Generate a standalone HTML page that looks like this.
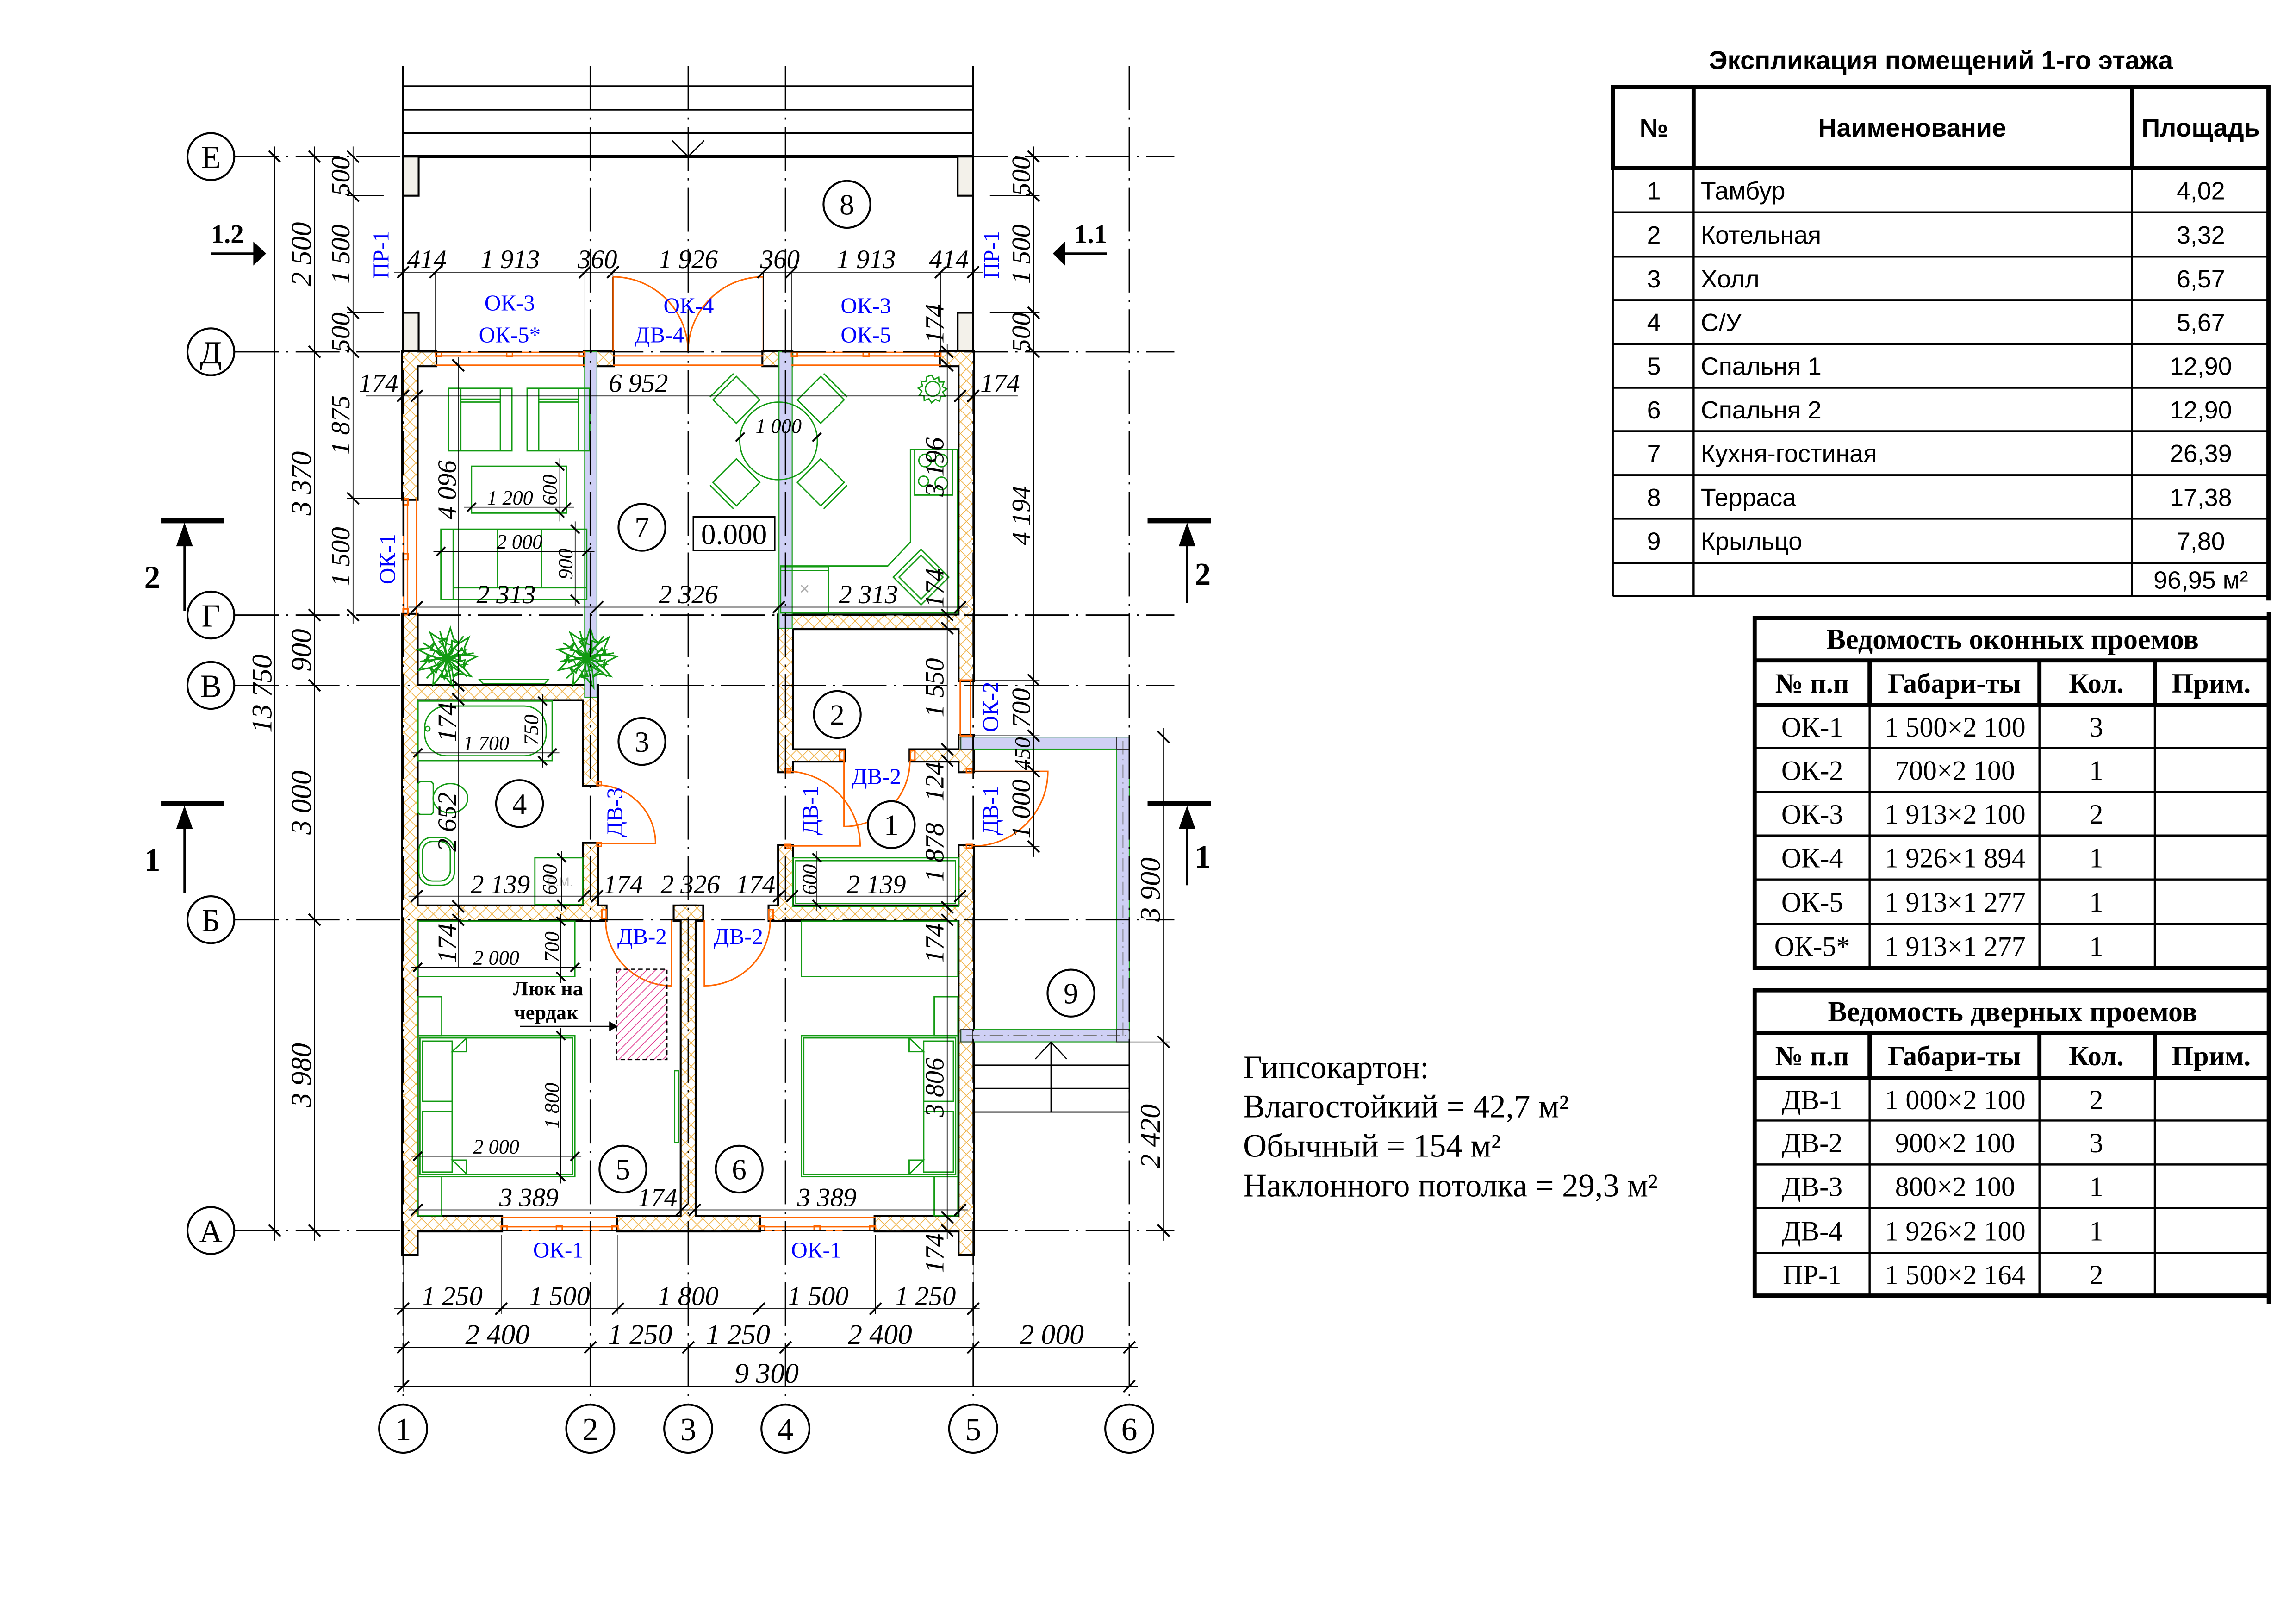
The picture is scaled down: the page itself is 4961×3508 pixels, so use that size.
<!DOCTYPE html>
<html><head><meta charset="utf-8"><title>План 1-го этажа</title>
<style>
html,body{margin:0;padding:0;background:#fff}
svg{display:block}
.ax{stroke:#000;stroke-width:0.9;stroke-dasharray:30 5 1.5 5;fill:none}
.dl{stroke:#000;stroke-width:0.55;fill:none}
.ex{stroke:#000;stroke-width:0.45;fill:none}
.tk{stroke:#000;stroke-width:1.2;fill:none}
.d{font-family:"Liberation Serif",serif;font-style:italic;font-size:18px;fill:#000;text-anchor:middle}
.ds{font-family:"Liberation Serif",serif;font-style:italic;font-size:14px;fill:#000;text-anchor:middle}
.dL{font-family:"Liberation Serif",serif;font-style:italic;font-size:19.5px;fill:#000;text-anchor:middle}
.bl{font-family:"Liberation Serif",serif;font-size:15.5px;fill:#0000ff;text-anchor:middle}
.or{stroke:#ff6600;stroke-width:1;fill:none}
.gr{stroke:#129a12;stroke-width:0.9;fill:none}
.n{font-family:"Liberation Serif",serif;font-size:20px;text-anchor:middle;fill:#000}
.an{font-family:"Liberation Serif",serif;font-size:22px;text-anchor:middle;fill:#000}
.cir{fill:#fff;stroke:#000;stroke-width:1.3}
.ts{font-family:"Liberation Sans",sans-serif;font-size:17px;fill:#000}
.tsb{font-family:"Liberation Sans",sans-serif;font-size:17.5px;font-weight:bold;fill:#000;text-anchor:middle}
.tt{font-family:"Liberation Serif",serif;font-size:19px;fill:#000;text-anchor:middle}
.ttb{font-family:"Liberation Serif",serif;font-size:19px;font-weight:bold;fill:#000;text-anchor:middle}
.thk{stroke:#000;stroke-width:2.8;fill:none}
.thn{stroke:#000;stroke-width:1.4;fill:none}
</style></head><body>
<svg xmlns="http://www.w3.org/2000/svg" width="4961" height="3508" viewBox="0 0 1568 1108.73" preserveAspectRatio="none">
<defs>
<pattern id="h" width="8" height="8" patternUnits="userSpaceOnUse">
<rect width="8" height="8" fill="#fff"/>
<path d="M0,0L8,8M8,0L0,8" stroke="#f0b040" stroke-width="0.5"/>
</pattern>
<pattern id="mg" width="6" height="6" patternUnits="userSpaceOnUse">
<path d="M-1,1L1,-1M0,6L6,0M5,7L7,5" stroke="#e0308a" stroke-width="0.5"/>
</pattern>
<g id="walls">
<rect x="275.3" y="240.2" width="9.3" height="100.4"/>
<rect x="275.3" y="419.7" width="9.3" height="436.5"/>
<rect x="275.3" y="240.2" width="22.1" height="9.2"/>
<rect x="399.4" y="240.2" width="19.2" height="9.2"/>
<rect x="521.3" y="240.2" width="19.2" height="9.2"/>
<rect x="642.5" y="240.2" width="22.1" height="9.2"/>
<rect x="655.3" y="240.2" width="9.3" height="224.1"/>
<rect x="655.3" y="502.3" width="9.3" height="24.3"/>
<rect x="655.3" y="577.5" width="9.3" height="278.7"/>
<rect x="275.3" y="830.8" width="67" height="9.3"/>
<rect x="422" y="830.8" width="96.3" height="9.3"/>
<rect x="597.9" y="830.8" width="66.7" height="9.3"/>
<rect x="275.3" y="468.2" width="132.4" height="9.2"/>
<rect x="398.8" y="468.2" width="8.9" height="67.6"/>
<rect x="398.8" y="576.1" width="8.9" height="52"/>
<rect x="275.3" y="618.8" width="138.3" height="9.2"/>
<rect x="460.7" y="618.8" width="18.9" height="9.2"/>
<rect x="465.5" y="618.8" width="8.9" height="212.2"/>
<rect x="525.5" y="618.8" width="139.1" height="9.2"/>
<rect x="532" y="420.2" width="9" height="106.4"/>
<rect x="532" y="577.5" width="9" height="50.5"/>
<rect x="532" y="420.2" width="132.6" height="8.7"/>
<rect x="532" y="512.2" width="44.4" height="7.1"/>
<rect x="621.8" y="512.2" width="42.8" height="7.1"/>
</g>
<g id="leaf">
<path d="M0,0L6,-2.5L9,-6L11,-2L18,-1L12,2L10,6L6,2.5Z"/>
</g>
<g id="palm" class="gr" stroke-width="0.8">
<use href="#leaf"/>
<use href="#leaf" transform="rotate(40)"/>
<use href="#leaf" transform="rotate(80)"/>
<use href="#leaf" transform="rotate(120)"/>
<use href="#leaf" transform="rotate(160)"/>
<use href="#leaf" transform="rotate(200)"/>
<use href="#leaf" transform="rotate(240)"/>
<use href="#leaf" transform="rotate(280)"/>
<use href="#leaf" transform="rotate(320)"/>
<use href="#leaf" transform="rotate(20) scale(0.7)"/>
<use href="#leaf" transform="rotate(100) scale(0.7)"/>
<use href="#leaf" transform="rotate(180) scale(0.7)"/>
<use href="#leaf" transform="rotate(260) scale(0.7)"/>
<use href="#leaf" transform="rotate(340) scale(0.7)"/>
<path d="M0,0L-14,-9M0,0L-4,-16M0,0L10,-13M0,0L16,-3M0,0L12,11M0,0L3,16M0,0L-12,12M0,0L-16,2"/>
</g>
</defs>

<rect width="1568" height="1108.73" fill="#fff"/>

<!-- terrace top -->
<path d="M275.3,45.2V240.2M664.6,45.2V240.2" stroke="#000" stroke-width="1.3" fill="none"/>
<path d="M275.3,58.8H664.6M275.3,74.9H664.6M275.3,90.9H664.6" stroke="#000" stroke-width="1.1" fill="none"/>
<path d="M275.3,106.9H664.6" stroke="#000" stroke-width="2.2"/>
<path d="M459,96L469.9,106.9L480.9,96" stroke="#000" stroke-width="0.9" fill="none"/>
<g fill="#f3f1ea" stroke="#000" stroke-width="1.3">
<rect x="275.3" y="106.9" width="10.6" height="26.7"/>
<rect x="275.3" y="213.5" width="10.6" height="26.7"/>
<rect x="654" y="106.9" width="10.6" height="26.7"/>
<rect x="654" y="213.5" width="10.6" height="26.7"/>
</g>

<!-- walls -->
<use href="#walls" fill="#000" stroke="#000" stroke-width="2.6"/>
<use href="#walls" fill="url(#h)"/>

<!-- lavender partitions -->
<g fill="#cfd0f5" stroke="#1f9f1f" stroke-width="0.7">
<rect x="399.3" y="240.2" width="8.4" height="235.8"/>
<rect x="532" y="240.2" width="9" height="188.7"/>
<rect x="656.2" y="503.2" width="115" height="8.2"/>
<rect x="762.6" y="503.2" width="8.6" height="208.1"/>
<rect x="656.2" y="702.7" width="115" height="8.6"/>
</g>
<path d="M660,507.3H769M766.9,506V709M660,707H769" stroke="#777" stroke-width="0.6" stroke-dasharray="9 3 1 3" fill="none"/>
<g fill="none" stroke="#333" stroke-width="0.6">
<rect x="656.2" y="503.2" width="8" height="8.2"/><rect x="762.6" y="503.2" width="8.6" height="8.2"/>
<rect x="656.2" y="702.7" width="8" height="8.6"/><rect x="762.6" y="702.7" width="8.6" height="8.6"/>
</g>

<!-- stairs -->
<path d="M664.6,727.2H771.2M664.6,743.1H771.2M664.6,759.2H771.2M717.8,711.3V759.2M771.2,711.3V759.2" stroke="#000" stroke-width="0.9" fill="none"/>
<path d="M707,723L717.8,711.5L728.5,723" stroke="#000" stroke-width="0.8" fill="none"/>

<!-- windows -->
<g class="or">
<path d="M297.4,240.6H399.4M297.4,243H399.4M297.4,249.3H399.4M540.5,240.6H642.5M540.5,243H642.5M540.5,249.3H642.5"/>
<path d="M418.6,243H521.3M418.6,249.3H521.3"/>
<path d="M275.8,340.6V419.7M278.3,340.6V419.7M284.6,340.6V419.7"/>
<path d="M342.3,831.2H422M342.3,837.5H422M342.3,840.1H422M518.3,831.2H597.9M518.3,837.5H597.9M518.3,840.1H597.9"/>
<path d="M655.8,464.3V502.3M662.8,464.3V502.3M655.8,464.3H664.6M655.8,502.3H664.6"/>
<rect x="297.4" y="240.2" width="4" height="3.3"/><rect x="346" y="240.2" width="4" height="3.3"/><rect x="395.4" y="240.2" width="4" height="3.3"/>
<rect x="540.5" y="240.2" width="4" height="3.3"/><rect x="589.5" y="240.2" width="4" height="3.3"/><rect x="638.5" y="240.2" width="4" height="3.3"/>
<rect x="275.3" y="340.6" width="3.3" height="4"/><rect x="275.3" y="378" width="3.3" height="4"/><rect x="275.3" y="415.7" width="3.3" height="4"/>
<rect x="342.3" y="836.8" width="4" height="3.3"/><rect x="380" y="836.8" width="4" height="3.3"/><rect x="418" y="836.8" width="4" height="3.3"/>
<rect x="518.3" y="836.8" width="4" height="3.3"/><rect x="556" y="836.8" width="4" height="3.3"/><rect x="593.9" y="836.8" width="4" height="3.3"/>
<rect x="407.7" y="533.8" width="3" height="2.5"/><rect x="407.7" y="575.3" width="3" height="2.5"/>
<rect x="411" y="621" width="3" height="6.5"/><rect x="525" y="621" width="3" height="6.5"/>
<rect x="573.5" y="512.5" width="3" height="6.5"/><rect x="621.8" y="512.5" width="3" height="6.5"/>
<rect x="536" y="525" width="4" height="2.5"/><rect x="536" y="576.5" width="4" height="2.5"/>
<rect x="660" y="525" width="4" height="2.5"/><rect x="660" y="576.5" width="4" height="2.5"/>
</g>

<!-- doors -->
<g class="or" stroke-width="1.1">
<path d="M418.6,240.2V189M418.6,189A51.3,51.3 0 0 1 469.9,240.2"/>
<path d="M521.3,240.2V189M521.3,189A51.3,51.3 0 0 0 469.9,240.2"/>
<path d="M407.7,576H447.7A40,40 0 0 0 407.7,536"/>
<path d="M458.6,628V673A45,45 0 0 1 413.6,628"/>
<path d="M481,628V673A45,45 0 0 0 526,628"/>
<path d="M576.4,519.3V564.3A45,45 0 0 0 621.4,519.3"/>
<path d="M536.4,577.5H587.4A51,51 0 0 0 536.4,526.5"/>
<path d="M664.6,526.6H715.6A51,51 0 0 1 664.6,577.6"/>
</g>

<!-- furniture -->
<g class="gr">
<rect x="306.3" y="265.1" width="43.3" height="42.7"/>
<path d="M314.7,265.1V307.8M341.7,265.1V307.8M314.7,272.5H341.7M314.7,274.5H341.7"/>
<rect x="360" y="265.1" width="42.8" height="42.7"/>
<path d="M367.9,265.1V307.8M394.9,265.1V307.8M367.9,272.5H394.9M367.9,274.5H394.9"/>
<rect x="322" y="318.3" width="64.8" height="32"/>
<rect x="301.1" y="361.3" width="99.6" height="47.9"/>
<path d="M309.5,361.3V409.2M309.5,401.3H400.7M339.6,361.3V401.3M369.7,361.3V401.3"/>
<circle cx="531.7" cy="301" r="26.5"/>
<path d="M502.9,257L518.9,273L502.9,289L486.9,273ZM484.9,271L500.9,255"/>
<path d="M560.5,257L576.5,273L560.5,289L544.5,273ZM562.5,255L578.5,271"/>
<path d="M502.9,313.3L518.9,329.3L502.9,345.3L486.9,329.3ZM484.9,331.3L500.9,347.3"/>
<path d="M560.5,313.3L576.5,329.3L560.5,345.3L544.5,329.3ZM562.5,347.3L578.5,331.3"/>
<path d="M621.8,307H654V418.4H533.1V386.4H606.3L621.8,370Z"/>
<rect x="624.7" y="307" width="25.9" height="31"/>
<circle cx="631.8" cy="314.4" r="4.3"/><circle cx="642.9" cy="314.4" r="4.3"/><circle cx="630.7" cy="328.5" r="3.4"/><circle cx="642.9" cy="330" r="4.3"/>
<path d="M629,375L648,394L629,413L610,394Z"/>
<path d="M629,379L644,394L629,409L614,394Z"/>
<rect x="533.1" y="386.9" width="32.8" height="31.5"/>
<path d="M533.1,389.5H565.9"/>
<path d="M636.2,256.1L638,259L641,257.5L641.3,260.8L644.6,260.8L643.5,264L646.5,265.5L643.8,267.6L645.5,270.5L642.2,270.8L641.8,274L638.8,272.7L636.2,275L634.4,272.2L631.2,273.5L631,270.2L627.8,269.8L629.6,267L627,265L630,263.4L629,260.2L632.3,260.4L633,257.2Z"/>
<circle cx="637" cy="265.5" r="5"/>
<path d="M327.3,463.8H374.6L372,466.7H330Z"/>
<rect x="285.4" y="478.6" width="91.7" height="40.7"/>
<rect x="290" y="482" width="83" height="34" rx="15"/>
<circle cx="292" cy="497.5" r="1.6"/>
<rect x="285.4" y="533.7" width="10.5" height="22.3" rx="2"/>
<ellipse cx="307.6" cy="545" rx="11.8" ry="10"/>
<rect x="286" y="571.7" width="24.3" height="32.7" rx="9"/>
<rect x="288.5" y="574.5" width="19" height="27" rx="7"/>
<rect x="365.3" y="585.6" width="32.7" height="31.9"/>
<rect x="541.5" y="585.6" width="113" height="33.2"/>
<rect x="543.5" y="587.6" width="109" height="29.2"/>
<rect x="285.2" y="628.9" width="107.4" height="37.8"/>
<rect x="285.2" y="680.5" width="16.5" height="26.5"/>
<rect x="285.2" y="803.3" width="16.5" height="26.7"/>
<rect x="285.2" y="707" width="107.4" height="96.3"/>
<rect x="286.8" y="708.6" width="104.2" height="93.1"/>
<rect x="288.5" y="710.8" width="20.3" height="41.1"/>
<rect x="288.5" y="758.7" width="20.3" height="41.5"/>
<path d="M308.8,718V792M308.8,718L318.7,708.7V718ZM308.8,792L318.7,801.5V792Z"/>
<rect x="460.7" y="731" width="2.7" height="49"/>
<rect x="547.3" y="628.9" width="106.9" height="37.8"/>
<rect x="638" y="680.5" width="16.2" height="26.5"/>
<rect x="638" y="803.3" width="16.2" height="26.7"/>
<rect x="547.3" y="707" width="106.9" height="96.3"/>
<rect x="548.9" y="708.6" width="103.7" height="93.1"/>
<rect x="630.8" y="710.8" width="20.3" height="41.1"/>
<rect x="630.8" y="758.7" width="20.3" height="41.5"/>
<path d="M630.8,718V792M630.8,718L620.9,708.7V718ZM630.8,792L620.9,801.5V792Z"/>
</g>
<use href="#palm" transform="translate(305.1,449.3) scale(1.15)"/>
<use href="#palm" transform="translate(400.7,449.3) scale(1.15)"/>
<text x="549.5" y="406" font-family="Liberation Sans, sans-serif" font-size="12" fill="#aaa" text-anchor="middle">×</text>
<text x="382.3" y="605" font-family="Liberation Sans, sans-serif" font-size="8.5" fill="#bbb" text-anchor="middle">С.М.</text>

<!-- attic hatch -->
<rect x="420.9" y="661.7" width="34.6" height="61.7" fill="url(#mg)" stroke="#000" stroke-width="0.8" stroke-dasharray="3 2"/>
<path d="M355.1,700.7H417" stroke="#000" stroke-width="0.8"/>
<path d="M416,697.3L422,700.7L416,704.1Z" fill="#000"/>
<text x="374.3" y="679.5" font-family="Liberation Serif, serif" font-size="14" font-weight="bold" text-anchor="middle">Люк на</text>
<text x="373" y="696" font-family="Liberation Serif, serif" font-size="14" font-weight="bold" text-anchor="middle">чердак</text>

<!-- level box -->
<rect x="473.5" y="352.9" width="55.6" height="23" fill="#fff" stroke="#000" stroke-width="1"/>
<text x="501.3" y="371.5" class="n">0.000</text>

<!-- axis lines -->
<path class="ax" d="M160.4,106.9H802M160.4,240.2H802M160.4,419.9H802M160.4,467.9H802M160.4,627.9H802M160.4,840.1H802"/>
<path class="ax" d="M275.3,45.2V959M403.1,45.2V959M470,45.2V959M536.4,45.2V959M664.6,45.2V959M771.2,45.2V959"/>

<!-- dimension lines -->
<path class="dl" d="M187.6,100V847M214.8,100V847M241.1,100V426M705.9,100V585M794.6,497V847M312.9,244V660M646.9,235V846M269,185.8H671M250,270.3H695M279,414.5H661M279,611.8H661M279,826H661M269,893.5H669M269,919.9H777M269,946.4H777M500,298.4H563M317,346.3H392M382.3,313V356M296,376.5H406M392.8,356V414M281,514H382M370.5,474V524M383.6,581V622M557.9,581V622M281,660.4H397M383,624V671M383,702V808M281,789.4H397"/>
<path class="ex" d="M297.4,186V240M399.4,186V240M418.6,186V240M521.3,186V240M540.5,186V240M642.5,186V240M237,133.6H262M237,213.5H262M237,340.2H275M676,133.6H710M676,213.5H710M664.6,464.3H710M664.6,502.3H710M664.6,526.6H710M664.6,578H710M771.2,503.2H799M771.2,711.3H799M342.3,843V897M422,843V897M518.3,843V897M597.9,843V897M275.3,856V950M664.6,856V924"/>
<path class="tk" d="M183.6,102.9l8,8M183.6,836.1l8,8M210.8,102.9l8,8M210.8,236.2l8,8M210.8,415.9l8,8M210.8,463.9l8,8M210.8,623.9l8,8M210.8,836.1l8,8M237.1,102.9l8,8M237.1,129.6l8,8M237.1,209.5l8,8M237.1,236.2l8,8M237.1,336.2l8,8M237.1,415.9l8,8M701.9,102.9l8,8M701.9,129.6l8,8M701.9,209.5l8,8M701.9,236.2l8,8M701.9,460.3l8,8M701.9,498.3l8,8M701.9,522.6l8,8M701.9,574l8,8M790.6,499.2l8,8M790.6,707.3l8,8M790.6,836.1l8,8M308.9,245.4l8,8M308.9,463.9l8,8M308.9,473.4l8,8M308.9,614.8l8,8M308.9,624l8,8M642.9,236.2l8,8M642.9,245.4l8,8M642.9,415.8l8,8M642.9,424.9l8,8M642.9,507.5l8,8M642.9,515.3l8,8M642.9,615.4l8,8M642.9,624l8,8M642.9,827l8,8M642.9,836.1l8,8"/>
<path class="tk" d="M271.3,189.8l8,-8M293.4,189.8l8,-8M395.4,189.8l8,-8M414.6,189.8l8,-8M517.3,189.8l8,-8M536.5,189.8l8,-8M638.5,189.8l8,-8M660.6,189.8l8,-8M271.3,274.3l8,-8M280.6,274.3l8,-8M651.7,274.3l8,-8M660.6,274.3l8,-8M280.6,418.5l8,-8M403.9,418.5l8,-8M527.9,418.5l8,-8M651.7,418.5l8,-8M280.6,615.8l8,-8M394.8,615.8l8,-8M403.7,615.8l8,-8M528,615.8l8,-8M537,615.8l8,-8M651.7,615.8l8,-8M280.6,830l8,-8M461.5,830l8,-8M470.4,830l8,-8M651.7,830l8,-8M271.3,897.5l8,-8M338.3,897.5l8,-8M418,897.5l8,-8M514.3,897.5l8,-8M593.9,897.5l8,-8M660.6,897.5l8,-8M271.3,923.9l8,-8M399.1,923.9l8,-8M466,923.9l8,-8M532.4,923.9l8,-8M660.6,923.9l8,-8M767.2,923.9l8,-8M271.3,950.4l8,-8M767.2,950.4l8,-8"/>
<path class="tk" stroke-width="1" d="M502.5,301.4l6,-6M554.9,301.4l6,-6M319,349.3l6,-6M383.8,349.3l6,-6M379.3,315.3l6,6M379.3,347.3l6,6M298.1,379.5l6,-6M397.7,379.5l6,-6M389.8,358.3l6,6M389.8,406.2l6,6M282.4,517l6,-6M374.1,517l6,-6M367.5,475.6l6,6M367.5,516.3l6,6M380.6,582.6l6,6M380.6,614.5l6,6M554.9,582.6l6,6M554.9,614.5l6,6M282.2,663.4l6,-6M389.6,663.4l6,-6M380,625.9l6,6M380,663.7l6,6M380,704l6,6M380,800.3l6,6M282.2,792.4l6,-6M389.6,792.4l6,-6"/>

<!-- horizontal dim texts -->
<g class="d">
<text x="291.5" y="183">414</text><text x="348.4" y="183">1 913</text><text x="408" y="183">360</text><text x="470" y="183">1 926</text><text x="532.7" y="183">360</text><text x="591.5" y="183">1 913</text><text x="648" y="183">414</text>
<text x="436" y="267.5">6 952</text><text x="258.5" y="267.5">174</text><text x="683" y="267.5">174</text>
<text x="345.6" y="411.8">2 313</text><text x="470" y="411.8">2 326</text><text x="593" y="411.8">2 313</text>
<text x="341.7" y="609.8">2 139</text><text x="425.6" y="609.8">174</text><text x="471.4" y="609.8">2 326</text><text x="516" y="609.8">174</text><text x="598.5" y="609.8">2 139</text>
<text x="361.2" y="823.5">3 389</text><text x="449" y="823.5">174</text><text x="564.7" y="823.5">3 389</text>
</g>
<g class="d" style="font-size:18.5px">
<text x="308.8" y="891">1 250</text><text x="382.1" y="891">1 500</text><text x="469.9" y="891">1 800</text><text x="558.7" y="891">1 500</text><text x="632" y="891">1 250</text>
</g>
<g class="dL">
<text x="339.7" y="917.5">2 400</text><text x="437.2" y="917.5">1 250</text><text x="504" y="917.5">1 250</text><text x="601" y="917.5">2 400</text><text x="718.3" y="917.5">2 000</text>
<text x="523.6" y="944">9 300</text>
</g>
<g class="ds">
<text x="531.7" y="295.5">1 000</text><text x="348.3" y="344.5">1 200</text><text x="354.8" y="374.5">2 000</text><text x="332" y="512">1 700</text><text x="338.9" y="658.5">2 000</text><text x="338.9" y="787.5">2 000</text>
</g>

<!-- rotated dim texts -->
<g class="dL">
<text transform="translate(185.3,473.5) rotate(-90)">13 750</text>
<text transform="translate(212.3,173.5) rotate(-90)">2 500</text>
<text transform="translate(212.3,330) rotate(-90)">3 370</text>
<text transform="translate(212.3,443.9) rotate(-90)">900</text>
<text transform="translate(212.3,547.9) rotate(-90)">3 000</text>
<text transform="translate(212.3,734) rotate(-90)">3 980</text>
<text transform="translate(792,607.3) rotate(-90)">3 900</text>
<text transform="translate(792,775.7) rotate(-90)">2 420</text>
</g>
<g class="d">
<text transform="translate(238.6,120.2) rotate(-90)">500</text>
<text transform="translate(238.6,173.5) rotate(-90)">1 500</text>
<text transform="translate(238.6,226.9) rotate(-90)">500</text>
<text transform="translate(238.6,290.2) rotate(-90)">1 875</text>
<text transform="translate(238.6,380) rotate(-90)">1 500</text>
<text transform="translate(703.4,120.2) rotate(-90)">500</text>
<text transform="translate(703.4,173.5) rotate(-90)">1 500</text>
<text transform="translate(703.4,226.9) rotate(-90)">500</text>
<text transform="translate(703.4,352) rotate(-90)">4 194</text>
<text transform="translate(703.4,483.3) rotate(-90)">700</text>
<text transform="translate(703.4,514.5) rotate(-90)" style="font-size:15px">450</text>
<text transform="translate(703.4,552.3) rotate(-90)">1 000</text>
<text transform="translate(644.3,221) rotate(-90)">174</text>
<text transform="translate(644.3,318.8) rotate(-90)">3 196</text>
<text transform="translate(644.3,401.4) rotate(-90)">174</text>
<text transform="translate(644.3,469.5) rotate(-90)">1 550</text>
<text transform="translate(644.3,533.7) rotate(-90)">124</text>
<text transform="translate(644.3,582) rotate(-90)">1 878</text>
<text transform="translate(644.3,644) rotate(-90)">174</text>
<text transform="translate(644.3,742.3) rotate(-90)">3 806</text>
<text transform="translate(644.3,855.7) rotate(-90)">174</text>
<text transform="translate(311.4,334.5) rotate(-90)">4 096</text>
<text transform="translate(311.4,493) rotate(-90)">174</text>
<text transform="translate(311.4,561.2) rotate(-90)">2 652</text>
<text transform="translate(311.4,644) rotate(-90)">174</text>
</g>
<g class="ds">
<text transform="translate(380,334.5) rotate(-90)">600</text>
<text transform="translate(390.8,385) rotate(-90)">900</text>
<text transform="translate(367.5,498.3) rotate(-90)">750</text>
<text transform="translate(380,600.5) rotate(-90)">600</text>
<text transform="translate(557.5,600.5) rotate(-90)">600</text>
<text transform="translate(381.5,646.5) rotate(-90)">700</text>
<text transform="translate(381.5,754.9) rotate(-90)">1 800</text>
</g>

<!-- blue labels -->
<g class="bl">
<text x="348.1" y="211.9">ОК-3</text><text x="348.1" y="233.7">ОК-5*</text>
<text x="470.3" y="213.8">ОК-4</text><text x="450.2" y="233.7">ДВ-4</text>
<text x="591.3" y="213.8">ОК-3</text><text x="591.3" y="233.7">ОК-5</text>
<text transform="translate(265.3,174) rotate(-90)">ПР-1</text>
<text transform="translate(682.3,174) rotate(-90)">ПР-1</text>
<text transform="translate(269.8,381.7) rotate(-90)">ОК-1</text>
<text transform="translate(681.6,482.6) rotate(-90)">ОК-2</text>
<text transform="translate(681.6,553.3) rotate(-90)">ДВ-1</text>
<text transform="translate(558.5,553.3) rotate(-90)">ДВ-1</text>
<text transform="translate(424.9,554.6) rotate(-90)">ДВ-3</text>
<text x="598.5" y="535.2">ДВ-2</text>
<text x="438.5" y="644.4">ДВ-2</text>
<text x="504.3" y="644.4">ДВ-2</text>
<text x="381.3" y="858.6">ОК-1</text>
<text x="557.5" y="858.6">ОК-1</text>
</g>

<!-- room circles -->
<g>
<circle class="cir" cx="578.4" cy="139.5" r="16"/><text class="n" x="578.4" y="146.5">8</text>
<circle class="cir" cx="438.4" cy="360" r="16"/><text class="n" x="438.4" y="367">7</text>
<circle class="cir" cx="438.4" cy="506.2" r="16"/><text class="n" x="438.4" y="513.2">3</text>
<circle class="cir" cx="354.8" cy="548.6" r="16"/><text class="n" x="354.8" y="555.6">4</text>
<circle class="cir" cx="571.8" cy="487.8" r="16"/><text class="n" x="571.8" y="494.8">2</text>
<circle class="cir" cx="608.7" cy="563" r="16"/><text class="n" x="608.7" y="570">1</text>
<circle class="cir" cx="425.4" cy="798.2" r="16"/><text class="n" x="425.4" y="805.2">5</text>
<circle class="cir" cx="504.8" cy="798.2" r="16"/><text class="n" x="504.8" y="805.2">6</text>
<circle class="cir" cx="731.4" cy="678" r="16"/><text class="n" x="731.4" y="685">9</text>
</g>

<!-- axis circles -->
<g>
<circle class="cir" cx="144" cy="106.9" r="16"/><text class="an" x="144" y="114.8">Е</text>
<circle class="cir" cx="144" cy="240.2" r="16"/><text class="an" x="144" y="248.1">Д</text>
<circle class="cir" cx="144" cy="419.9" r="16"/><text class="an" x="144" y="427.8">Г</text>
<circle class="cir" cx="144" cy="467.9" r="16"/><text class="an" x="144" y="475.8">В</text>
<circle class="cir" cx="144" cy="627.9" r="16"/><text class="an" x="144" y="635.8">Б</text>
<circle class="cir" cx="144" cy="840.1" r="16"/><text class="an" x="144" y="848">А</text>
<circle class="cir" cx="275.3" cy="975.4" r="16.4"/><text class="an" x="275.3" y="983.3">1</text>
<circle class="cir" cx="403.1" cy="975.4" r="16.4"/><text class="an" x="403.1" y="983.3">2</text>
<circle class="cir" cx="470" cy="975.4" r="16.4"/><text class="an" x="470" y="983.3">3</text>
<circle class="cir" cx="536.4" cy="975.4" r="16.4"/><text class="an" x="536.4" y="983.3">4</text>
<circle class="cir" cx="664.6" cy="975.4" r="16.4"/><text class="an" x="664.6" y="983.3">5</text>
<circle class="cir" cx="771.2" cy="975.4" r="16.4"/><text class="an" x="771.2" y="983.3">6</text>
</g>

<!-- section markers -->
<g font-family="Liberation Serif, serif" font-weight="bold">
<text x="144" y="165.8" font-size="18">1.2</text>
<text x="733.6" y="165.8" font-size="18">1.1</text>
<text x="104" y="401.5" font-size="22" text-anchor="middle">2</text>
<text x="104" y="594.5" font-size="22" text-anchor="middle">1</text>
<text x="821.4" y="399.5" font-size="22" text-anchor="middle">2</text>
<text x="821.4" y="592.3" font-size="22" text-anchor="middle">1</text>
</g>
<path d="M144,173.1H174M726.1,173.1H755.8" stroke="#000" stroke-width="1.5"/>
<path d="M173,164.9L181.8,173.1L173,181.3ZM727.3,164.9L719,173.1L727.3,181.3Z" fill="#000"/>
<path d="M110,355.5H153M110,548.6H153M783.7,355.5H826.9M783.7,548.6H826.9" stroke="#000" stroke-width="3.5"/>
<path d="M126,417V372M126,610V565M810.7,411.8V372M810.7,604.4V565" stroke="#000" stroke-width="1.5"/>
<path d="M120.3,373L126,356.8L131.7,373ZM120.3,566L126,550L131.7,566ZM805,373L810.7,356.8L816.4,373ZM805,566L810.7,550L816.4,566Z" fill="#000"/>

<!-- gypsum notes -->
<g font-family="Liberation Serif, serif" font-size="22.3" fill="#000">
<text x="849" y="736.1">Гипсокартон:</text>
<text x="849" y="762.8">Влагостойкий = 42,7 м²</text>
<text x="849" y="789.7">Обычный = 154 м²</text>
<text x="849" y="816.8">Наклонного потолка = 29,3 м²</text>
</g>

<!-- explication table -->
<text x="1325.5" y="47.2" font-family="Liberation Sans, sans-serif" font-size="17.8" font-weight="bold" text-anchor="middle">Экспликация помещений 1-го этажа</text>
<path class="thn" d="M1101.4,145H1549.2M1101.4,175.2H1549.2M1101.4,204.9H1549.2M1101.4,234.9H1549.2M1101.4,264.7H1549.2M1101.4,294.4H1549.2M1101.4,324.4H1549.2M1101.4,354.1H1549.2M1101.4,384.4H1549.2M1101.4,407H1549.2M1101.4,114.7V407M1156.6,114.7V407M1456,114.7V407"/>
<path class="thk" d="M1101.4,59.3H1549.2V114.7H1101.4ZM1156.6,59.3V114.7M1456,59.3V114.7M1549.2,59.3V410"/>
<g class="tsb">
<text x="1129.5" y="93.2">№</text><text x="1305.9" y="93.2">Наименование</text><text x="1502.9" y="93.2">Площадь</text>
</g>
<g class="ts" text-anchor="middle">
<text x="1129.5" y="136">1</text><text x="1129.5" y="166.2">2</text><text x="1129.5" y="196.2">3</text><text x="1129.5" y="226">4</text><text x="1129.5" y="255.9">5</text><text x="1129.5" y="285.7">6</text><text x="1129.5" y="315.5">7</text><text x="1129.5" y="345.4">8</text><text x="1129.5" y="375.4">9</text>
<text x="1503" y="136">4,02</text><text x="1503" y="166.2">3,32</text><text x="1503" y="196.2">6,57</text><text x="1503" y="226">5,67</text><text x="1503" y="255.9">12,90</text><text x="1503" y="285.7">12,90</text><text x="1503" y="315.5">26,39</text><text x="1503" y="345.4">17,38</text><text x="1503" y="375.4">7,80</text><text x="1503" y="401.8">96,95 м²</text>
</g>
<g class="ts">
<text x="1161.5" y="136">Тамбур</text><text x="1161.5" y="166.2">Котельная</text><text x="1161.5" y="196.2">Холл</text><text x="1161.5" y="226">С/У</text><text x="1161.5" y="255.9">Спальня 1</text><text x="1161.5" y="285.7">Спальня 2</text><text x="1161.5" y="315.5">Кухня-гостиная</text><text x="1161.5" y="345.4">Терраса</text><text x="1161.5" y="375.4">Крыльцо</text>
</g>

<!-- window schedule -->
<path class="thn" d="M1198.3,540.7H1549.4M1198.3,570.4H1549.4M1198.3,600.4H1549.4M1198.3,630.8H1549.4M1198.3,510.7H1549.4M1276.8,481.5V660.8M1392.8,481.5V660.8M1471.6,481.5V660.8"/>
<path class="thk" d="M1198.3,421.8H1549.4V660.8H1198.3ZM1198.3,450.9H1549.4M1198.3,481.5H1549.4M1276.8,450.9V481.5M1392.8,450.9V481.5M1471.6,450.9V481.5"/>
<text x="1374.5" y="443" class="ttb" style="font-size:19.6px">Ведомость оконных проемов</text>
<g class="ttb">
<text x="1237.6" y="472.8">№ п.п</text><text x="1334.7" y="472.8">Габари-ты</text><text x="1431.6" y="472.8">Кол.</text><text x="1510.1" y="472.8">Прим.</text>
</g>
<g class="tt">
<text x="1237.6" y="502.8">ОК-1</text><text x="1335.2" y="502.8">1 500×2 100</text><text x="1431.6" y="502.8">3</text>
<text x="1237.6" y="532.4">ОК-2</text><text x="1335.2" y="532.4">700×2 100</text><text x="1431.6" y="532.4">1</text>
<text x="1237.6" y="562.3">ОК-3</text><text x="1335.2" y="562.3">1 913×2 100</text><text x="1431.6" y="562.3">2</text>
<text x="1237.6" y="592.1">ОК-4</text><text x="1335.2" y="592.1">1 926×1 894</text><text x="1431.6" y="592.1">1</text>
<text x="1237.6" y="622.3">ОК-5</text><text x="1335.2" y="622.3">1 913×1 277</text><text x="1431.6" y="622.3">1</text>
<text x="1237.6" y="652.5">ОК-5*</text><text x="1335.2" y="652.5">1 913×1 277</text><text x="1431.6" y="652.5">1</text>
</g>

<!-- door schedule -->
<path class="thn" d="M1198.3,765H1549.4M1198.3,795H1549.4M1198.3,824.7H1549.4M1198.3,855.4H1549.4M1276.8,735.9V884.5M1392.8,735.9V884.5M1471.6,735.9V884.5"/>
<path class="thk" d="M1198.3,676.1H1549.4V884.5H1198.3ZM1198.3,705.2H1549.4M1198.3,735.9H1549.4M1276.8,705.2V735.9M1392.8,705.2V735.9M1471.6,705.2V735.9M1549.4,418V890"/>
<text x="1374.5" y="697.3" class="ttb" style="font-size:19.6px">Ведомость дверных проемов</text>
<g class="ttb">
<text x="1237.6" y="727.2">№ п.п</text><text x="1334.7" y="727.2">Габари-ты</text><text x="1431.6" y="727.2">Кол.</text><text x="1510.1" y="727.2">Прим.</text>
</g>
<g class="tt">
<text x="1237.6" y="757.2">ДВ-1</text><text x="1335.2" y="757.2">1 000×2 100</text><text x="1431.6" y="757.2">2</text>
<text x="1237.6" y="786.7">ДВ-2</text><text x="1335.2" y="786.7">900×2 100</text><text x="1431.6" y="786.7">3</text>
<text x="1237.6" y="816.6">ДВ-3</text><text x="1335.2" y="816.6">800×2 100</text><text x="1431.6" y="816.6">1</text>
<text x="1237.6" y="846.8">ДВ-4</text><text x="1335.2" y="846.8">1 926×2 100</text><text x="1431.6" y="846.8">1</text>
<text x="1237.6" y="876.7">ПР-1</text><text x="1335.2" y="876.7">1 500×2 164</text><text x="1431.6" y="876.7">2</text>
</g>
</svg>
</body></html>
